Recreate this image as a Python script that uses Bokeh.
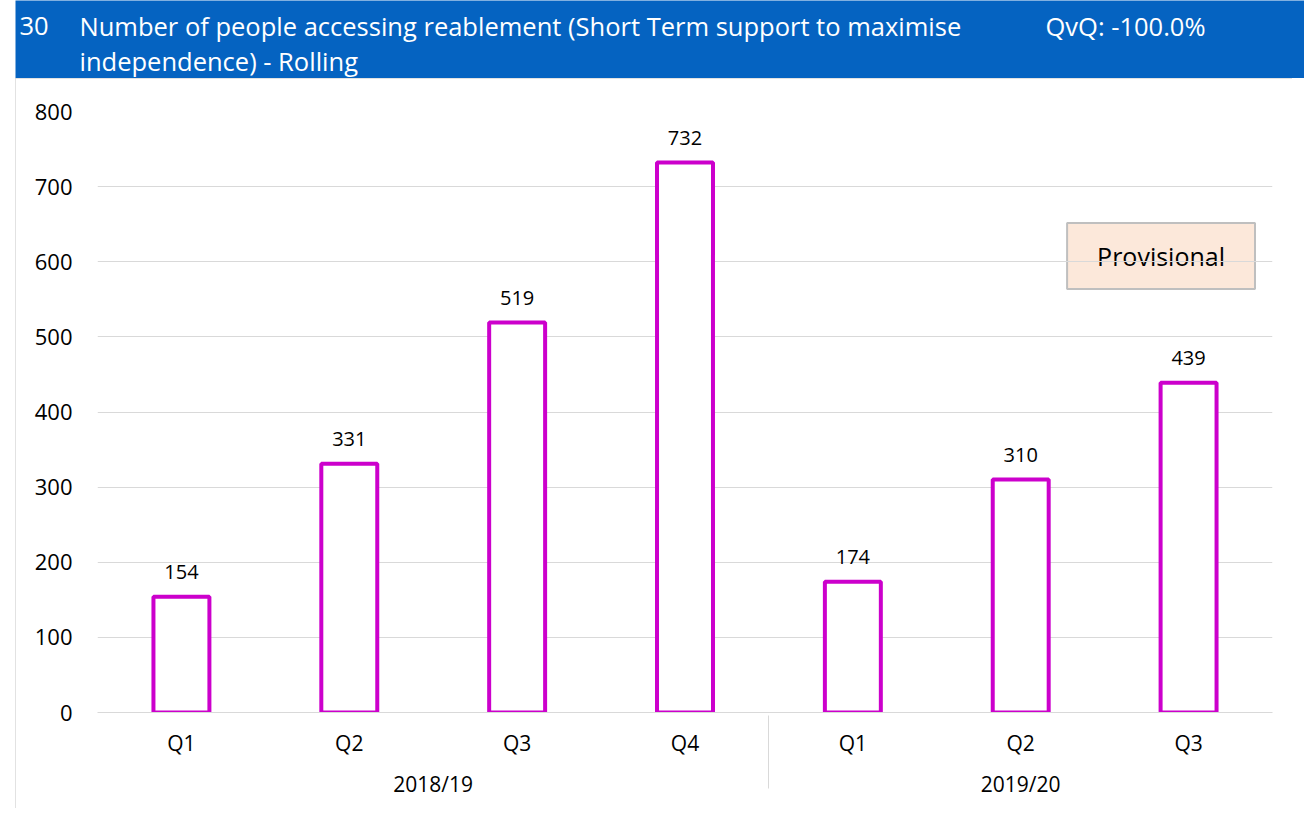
from bokeh.plotting import figure
from bokeh.models import FactorRange, ColumnDataSource, Label, FixedTicker, Range1d
from bokeh.layouts import column, row
from bokeh.embed import file_html
from bokeh.resources import INLINE
from bokeh.core.properties import value

# ---- data ----
years = ["2018/19", "2018/19", "2018/19", "2018/19", "2019/20", "2019/20", "2019/20"]
quarters = ["Q1", "Q2", "Q3", "Q4", "Q1", "Q2", "Q3"]
counts = [154, 331, 519, 732, 174, 310, 439]
y_ticks = [0, 100, 200, 300, 400, 500, 600, 700, 800]

title_number = "30"
title_line1 = "Number of people accessing reablement (Short Term support to maximise"
title_line2 = "independence) - Rolling"
qvq_text = "QvQ: -100.0%"
provisional_text = "Provisional"

FONT = "Open Sans"
BLUE = "#0563C1"
MAGENTA = "#CC00CC"
GRID = "#D9D9D9"
TEXT = "#000000"

X0 = 15
HEADER_H = 78

# ---- header band (ranges match page pixels) ----
header = figure(width=1304 - X0, height=HEADER_H, x_range=Range1d(X0, 1304), y_range=Range1d(HEADER_H, 0),
                output_backend="svg", toolbar_location=None, min_border=0,
                min_border_left=0, min_border_right=0, min_border_top=0, min_border_bottom=0)
header.axis.visible = False
header.grid.visible = False
header.outline_line_color = None
header.background_fill_color = BLUE
header.border_fill_color = BLUE

def head_label(x, y, text):
    header.add_layout(Label(x=x, y=y, text=text, text_color="white", text_font=FONT,
                            text_font_size="25.5px", text_baseline="middle", text_align="left"))

head_label(19, 25, title_number)
head_label(79, 25, title_line1)
head_label(79, 60, title_line2)
head_label(1045, 25, qvq_text)

# ---- chart ----
factors = list(zip(years, quarters))
src = ColumnDataSource(dict(x=factors, counts=counts, label=[str(c) for c in counts]))

p = figure(width=1292 - X0, height=730,
           x_range=FactorRange(*factors, factor_padding=0, group_padding=0,
                               subgroup_padding=0, range_padding=0),
           y_range=Range1d(0, 800),
           output_backend="svg", toolbar_location=None,
           min_border_left=97 - X0, min_border_right=20, min_border_top=33, min_border_bottom=96)
p.outline_line_color = None
p.background_fill_color = "white"
p.border_fill_color = "white"
p.styles = {"outline": "1px solid #D9D9D9", "outline-offset": "-1px"}

p.vbar(x="x", top="counts", width=1/3, source=src, fill_color="white",
       line_color=MAGENTA, line_width=4)
p.text(x="x", y="counts", text="label", source=src, text_align="center",
       text_baseline="bottom", y_offset=-18, text_font=value(FONT),
       text_font_size="20px", text_color=TEXT)

p.xgrid.visible = False
p.ygrid.grid_line_color = GRID
p.ygrid.grid_line_width = 1

p.yaxis.ticker = FixedTicker(ticks=y_ticks)
p.yaxis.axis_line_color = None
p.yaxis.major_tick_line_color = None
p.yaxis.minor_tick_line_color = None
p.yaxis.major_label_text_font = FONT
p.yaxis.major_label_text_font_size = "22px"
p.yaxis.major_label_text_color = TEXT
p.yaxis.major_label_standoff = 19

xa = p.xaxis[0]
xa.axis_line_color = GRID
xa.major_tick_line_color = None
xa.minor_tick_line_color = None
xa.major_label_text_font = FONT
xa.major_label_text_font_size = "21px"
xa.major_label_text_color = TEXT
xa.major_label_standoff = 10
xa.group_text_font = FONT
xa.group_text_font_size = "21px"
xa.group_text_color = TEXT
xa.group_text_font_style = "normal"
xa.separator_line_color = GRID
xa.separator_line_width = 1

prov = Label(x=6.336, y=607.7, text=provisional_text, text_align="center", text_baseline="middle",
             text_font=FONT, text_font_size="25px", text_color=TEXT,
             background_fill_color="#FCE8DA", border_line_color="#BFBFBF", border_line_width=2,
             padding=dict(left=30, right=30, top=16, bottom=16), level="image")
p.add_layout(prov)

layout = column(row(header, styles={"margin-left": f"{X0}px"}),
                row(p, styles={"margin-left": f"{X0}px"}), spacing=0)
open("out.html", "w").write(file_html(layout, INLINE))
